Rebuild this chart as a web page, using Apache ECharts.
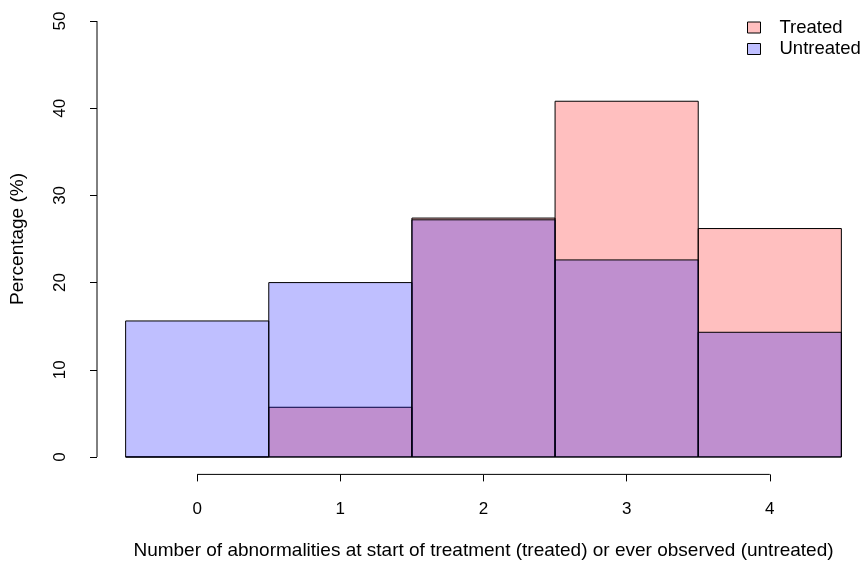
<!DOCTYPE html>
<html>
<head>
<meta charset="utf-8">
<script src="https://cdn.jsdelivr.net/npm/echarts@6/dist/echarts.min.js"></script>
<style>
  html, body { margin: 0; padding: 0; background: #fff; }
  #chart { width: 863px; height: 569px; }
</style>
</head>
<body>
<div id="chart"></div>
<script>
// Number of abnormalities (bin centres)
const categories = [0, 1, 2, 3, 4];
// Percentage of patients per bin
const treated = [0, 5.7, 27.4, 40.8, 26.2];
const untreated = [15.6, 20.0, 27.2, 22.6, 14.3];
// Axis ticks
const xTicks = [0, 1, 2, 3, 4];
const yTicks = [0, 10, 20, 30, 40, 50];

// Plot region padded 4% beyond the data range on each side
const xMin = -0.7, xMax = 4.7;
const yMin = -2, yMax = 52;

const FONT = 'Liberation Sans, Arial, sans-serif';
const TREATED_FILL = 'rgba(255, 0, 0, 0.25)';
const UNTREATED_FILL = 'rgba(0, 0, 255, 0.25)';

function histSeries(name, values, fill) {
  return {
    name: name,
    type: 'custom',
    data: categories.map((c, i) => [c, values[i]]),
    encode: { x: 0, y: 1 },
    itemStyle: { color: fill, borderColor: '#000', borderWidth: 1 },
    renderItem: function (params, api) {
      const x = api.value(0), v = api.value(1);
      const p0 = api.coord([x - 0.5, 0]);
      const p1 = api.coord([x + 0.5, v]);
      return {
        type: 'rect',
        shape: { x: p0[0], y: p1[1], width: p1[0] - p0[0], height: p0[1] - p1[1] },
        style: { fill: fill, stroke: '#000', lineWidth: 1 }
      };
    },
    clip: false,
    silent: true
  };
}

// Axis lines spanning only the tick range
const axisLines = {
  type: 'custom',
  silent: true,
  clip: false,
  data: [[0]],
  renderItem: function (params, api) {
    const xa = api.coord([xTicks[0], yMin]);
    const xb = api.coord([xTicks[xTicks.length - 1], yMin]);
    const ya = api.coord([xMin, yTicks[0]]);
    const yb = api.coord([xMin, yTicks[yTicks.length - 1]]);
    const style = { stroke: '#000', lineWidth: 1 };
    return {
      type: 'group',
      children: [
        { type: 'line', shape: { x1: xa[0], y1: xa[1], x2: xb[0], y2: xb[1] }, style: style },
        { type: 'line', shape: { x1: ya[0], y1: ya[1], x2: yb[0], y2: yb[1] }, style: style }
      ]
    };
  }
};

const chart = echarts.init(document.getElementById('chart'), null, { renderer: 'canvas' });
chart.setOption({
  animation: false,
  backgroundColor: '#fff',
  textStyle: { fontFamily: FONT, color: '#000' },
  grid: {
    left: 97, width: 773, top: 3.6, height: 470.8,
    containLabel: false, outerBoundsMode: 'none'
  },
  legend: {
    orient: 'vertical',
    left: 747,
    top: 17,
    padding: 0,
    itemWidth: 13,
    itemHeight: 11,
    itemGap: 0.5,
    icon: 'rect',
    data: ['Treated', 'Untreated'],
    itemStyle: { borderColor: '#000', borderWidth: 1 },
    textStyle: { fontFamily: FONT, fontSize: 18.5, lineHeight: 21, color: '#000', padding: [0, 0, 0, 14] }
  },
  xAxis: {
    type: 'value',
    min: xMin,
    max: xMax,
    splitLine: { show: false },
    axisLine: { show: false, onZero: false },
    axisTick: { show: true, customValues: xTicks, length: 7, lineStyle: { color: '#000' } },
    axisLabel: { customValues: xTicks, margin: 26, fontSize: 17, color: '#000', fontFamily: FONT },
    name: 'Number of abnormalities at start of treatment (treated) or ever observed (untreated)',
    nameLocation: 'middle',
    nameGap: 67,
    nameTextStyle: { fontSize: 19, color: '#000', fontFamily: FONT }
  },
  yAxis: {
    type: 'value',
    min: yMin,
    max: yMax,
    splitLine: { show: false },
    axisLine: { show: false, onZero: false },
    axisTick: { show: true, customValues: yTicks, length: 7, lineStyle: { color: '#000' } },
    axisLabel: { customValues: yTicks, rotate: 90, margin: 28, fontSize: 17, color: '#000', fontFamily: FONT },
    name: 'Percentage (%)',
    nameLocation: 'middle',
    nameGap: 70,
    nameRotate: 90,
    nameTextStyle: { fontSize: 19, color: '#000', fontFamily: FONT }
  },
  series: [
    histSeries('Treated', treated, TREATED_FILL),
    histSeries('Untreated', untreated, UNTREATED_FILL),
    axisLines
  ]
});
</script>
</body>
</html>
